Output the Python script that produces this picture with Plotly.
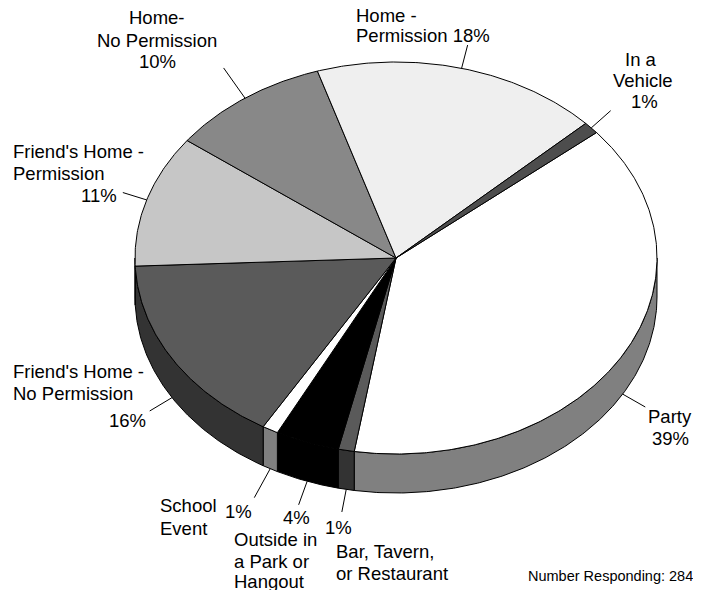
import numpy as np
import plotly.graph_objects as go

# ---- data ----
categories = ["Party", "Bar, Tavern, or Restaurant", "Outside in a Park or Hangout",
              "School Event", "Friend's Home - No Permission", "Friend's Home - Permission",
              "Home- No Permission", "Home - Permission", "In a Vehicle"]
percents = [39, 1, 4, 1, 16, 11, 10, 18, 1]
number_responding = 284

# ---- styles ----
top_colors = ["#ffffff", "#5a5a5a", "#000000", "#ffffff", "#5a5a5a",
              "#c6c6c6", "#888888", "#efefef", "#4d4d4d"]
wall_colors = ["#808080", "#333333", "#000000", "#808080", "#333333",
               "#636363", "#444444", "#9a9a9a", "#262626"]
leader_len = [26, 23, 25, 33, 26, 25, 37, 24, 26]

CX, CY, RX, RY, DEPTH = 396, 258, 261, 196, 39
START = 39.8  # degrees, counter-clockwise from 3 o'clock; slices go clockwise

FONT = "Arial, 'Liberation Sans', sans-serif"
PAGE_MARGIN = 8  # default body margin of the html page
W, H = 701, 590


def ell(a_deg, dy=0.0):
    a = np.radians(a_deg)
    return CX + RX * np.cos(a), CY - RY * np.sin(a) + dy


def arc(a0, a1, dy=0.0):
    n = max(2, int(abs(a1 - a0) / 0.5) + 2)
    aa = np.linspace(a0, a1, n)
    return ell(aa, dy)


vals = np.array(percents, dtype=float)
spans = vals / vals.sum() * 360.0
bounds = START - np.concatenate([[0], np.cumsum(spans)])

fig = go.Figure()

# side walls (front half only)
for i in range(len(vals)):
    a_start, a_end = bounds[i], bounds[i + 1]
    hi, lo = min(a_start, 0.0), max(a_end, -180.0)
    if hi > lo:
        tx, ty = arc(hi, lo)
        bx, by = arc(lo, hi, DEPTH)
        xs = np.concatenate([tx, bx, tx[:1]])
        ys = np.concatenate([ty, by, ty[:1]])
        fig.add_trace(go.Scatter(x=xs, y=ys, mode="lines", fill="toself",
                                 fillcolor=wall_colors[i],
                                 line=dict(color="#000000", width=1),
                                 hoverinfo="skip", showlegend=False))

# top faces
for i in range(len(vals)):
    a_start, a_end = bounds[i], bounds[i + 1]
    ax_, ay_ = arc(a_start, a_end)
    xs = np.concatenate([[CX], ax_, [CX]])
    ys = np.concatenate([[CY], ay_, [CY]])
    fig.add_trace(go.Scatter(x=xs, y=ys, mode="lines", fill="toself",
                             fillcolor=top_colors[i],
                             line=dict(color="#000000", width=1),
                             hoverinfo="skip", showlegend=False,
                             name=categories[i]))

# leader lines, computed from slice mid angles
lx, ly = [], []
for i in range(len(vals)):
    mid = (bounds[i] + bounds[i + 1]) / 2.0
    front = np.sin(np.radians(mid)) < 0
    x0, y0 = ell(mid, DEPTH if front else 0.0)
    dx, dy = np.cos(np.radians(mid)), -np.sin(np.radians(mid))
    lx += [x0, x0 + leader_len[i] * dx, None]
    ly += [y0, y0 + leader_len[i] * dy, None]
fig.add_trace(go.Scatter(x=lx, y=ly, mode="lines",
                         line=dict(color="#000000", width=1),
                         hoverinfo="skip", showlegend=False))

# label lines: (text, x, y, xanchor)
label_lines = [
    ("Home-", 157, 17.5, "center"), ("No Permission", 157, 40, "center"), ("10%", 157, 61.5, "center"),
    ("Home -", 355, 15, "left"), ("Permission 18%", 355, 35, "left"),
    ("In a", 641, 59, "center"), ("Vehicle", 643, 80, "center"), ("1%", 644, 101.5, "center"),
    ("Friend's Home -", 12, 151.5, "left"), ("Permission", 12, 173, "left"), ("11%", 118, 195, "right"),
    ("Friend's Home -", 12, 371.5, "left"), ("No Permission", 12, 393.5, "left"), ("16%", 147, 420, "right"),
    ("Party", 670, 416, "center"), ("39%", 670, 438, "center"),
    ("School", 159, 505.5, "left"), ("Event", 159, 528, "left"), ("1%", 224, 511, "left"),
    ("4%", 296, 517, "center"), ("Outside in", 233, 539.5, "left"), ("a Park or", 233, 561, "left"),
    ("Hangout", 233, 581.5, "left"),
    ("1%", 338, 527.5, "center"), ("Bar, Tavern,", 335, 551, "left"), ("or Restaurant", 335, 573, "left"),
]
annotations = []
for text, x, y, anc in label_lines:
    annotations.append(dict(text=text, x=x, y=y, xref="x", yref="y", xanchor=anc,
                            yanchor="middle", showarrow=False, borderpad=0,
                            font=dict(family=FONT, size=18.5, color="#000000")))
annotations.append(dict(text=f"Number Responding: {number_responding}", x=694, y=576,
                        xref="x", yref="y", xanchor="right", yanchor="middle",
                        showarrow=False, borderpad=0,
                        font=dict(family=FONT, size=14.5, color="#000000")))

# the figure sits inside the page's default body margin, so the axes map
# window pixels [margin, W] x [margin, H] onto the figure
fig.update_layout(
    width=W - PAGE_MARGIN, height=H - PAGE_MARGIN,
    margin=dict(l=0, r=0, t=0, b=0),
    paper_bgcolor="#ffffff", plot_bgcolor="#ffffff",
    showlegend=False,
    xaxis=dict(range=[PAGE_MARGIN, W], visible=False, fixedrange=True),
    yaxis=dict(range=[H, PAGE_MARGIN], visible=False, fixedrange=True),
    annotations=annotations,
)

fig.write_html("out.html")
